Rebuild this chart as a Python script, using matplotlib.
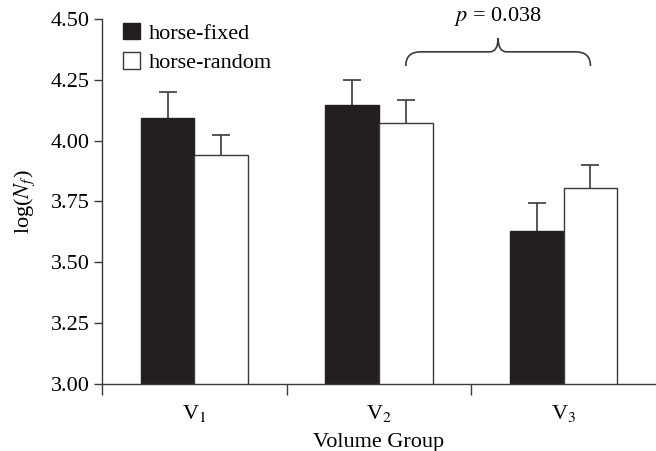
import numpy as np
import matplotlib
matplotlib.use('Agg')
import matplotlib.pyplot as plt
from matplotlib.path import Path
from matplotlib.patches import PathPatch

plt.rcParams['font.family'] = ['Liberation Serif', 'DejaVu Serif']
plt.rcParams['mathtext.fontset'] = 'stix'

# Datos
grupos = ['V$_1$', 'V$_2$', 'V$_3$']
fijo = [4.095, 4.148, 3.627]
fijo_err = [0.103, 0.102, 0.116]
aleatorio = [3.940, 4.074, 3.805]
aleatorio_err = [0.082, 0.095, 0.094]

negro = '#231f20'
gris = '#3a3a3a'
ancho = 0.29
fs = 16

fig = plt.figure(figsize=(6.56, 4.51), dpi=100)
ax = fig.add_axes([0.1555, 0.1486, 0.8445, 0.8093])

x = np.arange(len(grupos)) + 0.5
ax.bar(x - ancho/2, fijo, ancho, color=negro, edgecolor=negro,
       linewidth=1, label='horse-fixed', zorder=2)
ax.bar(x + ancho/2, aleatorio, ancho, color='white', edgecolor=gris,
       linewidth=1, label='horse-random', zorder=2)
# barras de error detras de las barras: solo se ve la mitad superior
ax.errorbar(x - ancho/2, fijo, yerr=fijo_err, fmt='none',
            ecolor=gris, elinewidth=1.2, capsize=6.5, capthick=1.2, zorder=1)
ax.errorbar(x + ancho/2, aleatorio, yerr=aleatorio_err, fmt='none',
            ecolor=gris, elinewidth=1.2, capsize=6.5, capthick=1.2, zorder=1)

ax.set_xlim(0, 3)
ax.set_ylim(3.0, 4.5)
ax.set_yticks([3.0, 3.25, 3.5, 3.75, 4.0, 4.25, 4.5])
ax.set_yticklabels(['%.2f' % v for v in ax.get_yticks()], fontsize=fs)
ax.set_xticks([0, 1, 2])
ax.set_xticklabels([])
ax.set_xticks(x, minor=True)
ax.set_xticklabels(grupos, minor=True, fontsize=fs)
ax.tick_params(axis='x', which='minor', length=0, pad=14)
ax.tick_params(axis='x', which='major', length=8, width=1, color=gris)
ax.tick_params(axis='y', length=6, width=1, color=gris, pad=3)

for s in ['top', 'right']:
    ax.spines[s].set_visible(False)
for s in ['left', 'bottom']:
    ax.spines[s].set_color(gris)
    ax.spines[s].set_linewidth(1)

ax.set_xlabel('Volume Group', fontsize=fs, labelpad=6)
ax.set_ylabel('log($N_f$)', fontsize=fs, labelpad=10)

# llave de significancia
x0 = x[1] + ancho/2
x1 = x[2] + ancho/2
xc = (x0 + x1)/2
y0, y1, yp = 4.307, 4.365, 4.422
d, dt = 0.08, 0.045
verts = [(x0, y0), (x0, y1), (x0 + d, y1),
         (xc - dt, y1), (xc, y1), (xc, yp),
         (xc, y1), (xc + dt, y1),
         (x1 - d, y1), (x1, y1), (x1, y0)]
codes = [Path.MOVETO, Path.CURVE3, Path.CURVE3,
         Path.LINETO, Path.CURVE3, Path.CURVE3,
         Path.CURVE3, Path.CURVE3,
         Path.LINETO, Path.CURVE3, Path.CURVE3]
ax.add_patch(PathPatch(Path(verts, codes), facecolor='none', edgecolor=gris,
                       linewidth=1.2, clip_on=False))
ax.text(xc, 4.51, '$p$ = 0.038', ha='center', va='center', fontsize=fs, clip_on=False)

ax.legend(loc='upper left', bbox_to_anchor=(0.022, 1.014), frameon=False,
          fontsize=fs, handlelength=0.77, handleheight=0.77, handletextpad=0.4,
          labelspacing=0.39, borderaxespad=0)

fig.savefig('out.png', dpi=100)
